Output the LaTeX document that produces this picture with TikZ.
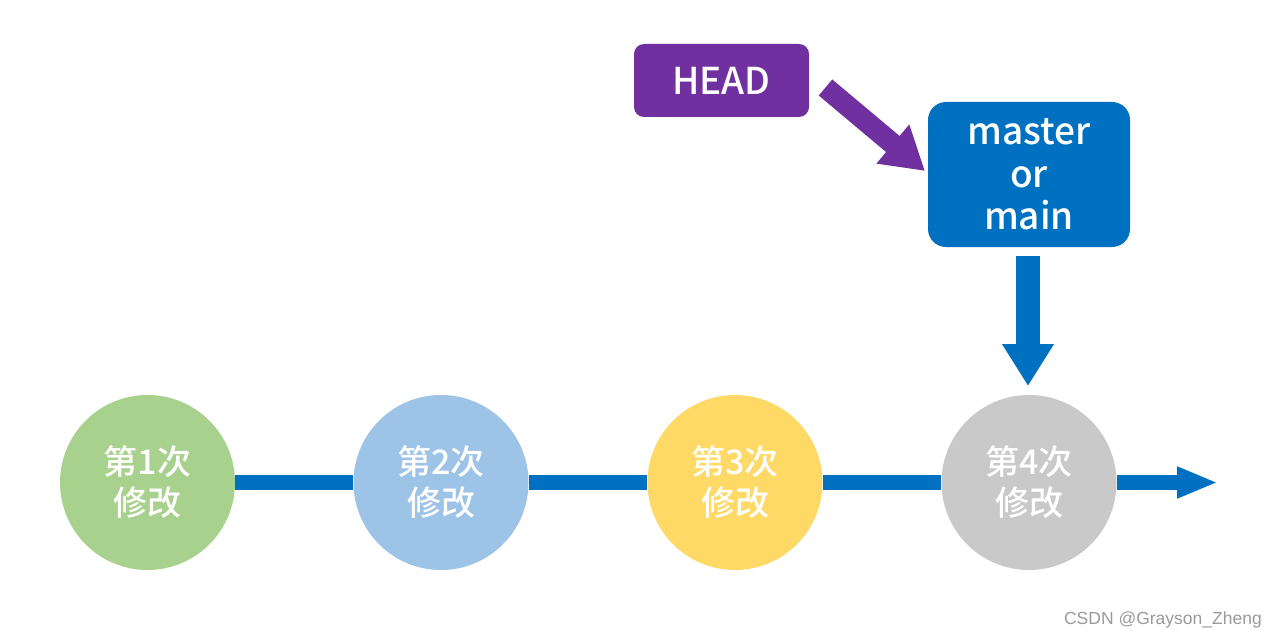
\documentclass[tikz,border=0pt]{standalone}
\usepackage{fontspec}
\newfontfamily\cjk{Noto Sans CJK SC Medium}
\newfontfamily\wmfont{Liberation Sans}
\usetikzlibrary{arrows.meta}
\definecolor{cgreen}{HTML}{A9D18E}
\definecolor{cblue}{HTML}{9DC3E6}
\definecolor{cyellow}{HTML}{FFD966}
\definecolor{cgray}{HTML}{C9C9C9}
\definecolor{mblue}{HTML}{0070C0}
\definecolor{mpurple}{HTML}{7030A0}
\definecolor{wmgray}{HTML}{9A9A9A}
\tikzset{
  commit/.style={circle, minimum size=175pt, inner sep=0pt, text=white, align=center,
    font={\cjk\fontsize{34}{41}\selectfont}},
  label box/.style={rounded corners=#1, text=white, align=center, inner sep=0pt,
    font={\cjk\fontsize{37}{42.5}\selectfont}},
  main line/.style={draw=mblue, line width=15pt, -{Triangle[length=41pt,width=29pt]}},
  plain line/.style={draw=mblue, line width=15pt},
  down arrow/.style={draw=mblue, line width=24pt, -{Triangle[length=42pt,width=49pt]}},
  head arrow/.style={draw=mpurple, line width=21pt, -{Triangle[length=42pt,width=48pt]}}
}
\begin{document}
\begin{tikzpicture}[x=1pt,y=-1pt]
\useasboundingbox[fill=white] (0,0) rectangle (1276,639);
% commits
\node[commit, fill=cgreen] (c1) at (147.5,482.5) {第1次\\修改};
\node[commit, fill=cblue] (c2) at (441,482.5) {第2次\\修改};
\node[commit, fill=cyellow] (c3) at (735,482.5) {第3次\\修改};
\node[commit, fill=cgray] (c4) at (1029,482.5) {第4次\\修改};
\coordinate (tipend) at (1218,482.5);
% connectors
\draw[plain line] (c1) -- (c2);
\draw[plain line] (c2) -- (c3);
\draw[plain line] (c3) -- (c4);
\draw[main line] (c4) -- (tipend);
% labels
\node[label box=10pt, fill=mpurple, minimum width=175pt, minimum height=73pt] (head) at (721.5,80.5) {HEAD};
\node[label box=18pt, fill=mblue, minimum width=202pt, minimum height=145pt] (master) at (1029,174.5) {master\\or\\main};
% pointer arrows
\coordinate (hs) at (825.5,87.5);
\coordinate (ht) at (925,171);
\draw[head arrow] (hs) -- (ht);
\coordinate (ms) at (1028,256);
\coordinate (mt) at (1028,386);
\draw[down arrow] (ms) -- (mt);
% watermark
\node[anchor=east, text=wmgray, font={\wmfont\fontsize{17.5}{17.5}\selectfont}, inner sep=0pt] (wm) at (1262,620) {CSDN @Grayson\_Zheng};
\end{tikzpicture}
\end{document}
